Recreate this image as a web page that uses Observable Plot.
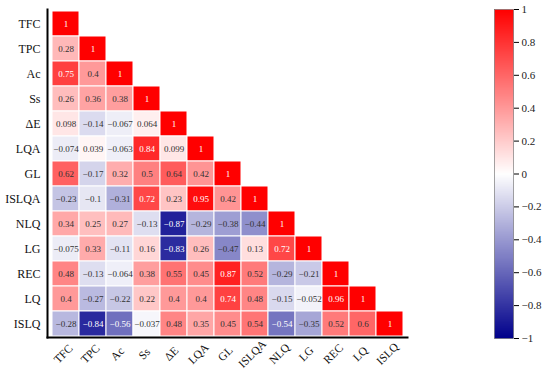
<!DOCTYPE html>
<html>
<head>
<meta charset="utf-8">
<script src="https://cdn.jsdelivr.net/npm/d3@7"></script>
<script src="https://cdn.jsdelivr.net/npm/@observablehq/plot@0.6"></script>
<style>
  html, body { margin: 0; padding: 0; background: #fff; }
  #wrap { position: relative; width: 550px; height: 382px; }
  #main, #bar { position: absolute; top: 0; }
  #main { left: 0; }
  #bar { left: 480px; }
  svg text { font-family: 'Liberation Serif', 'DejaVu Serif', serif; }
</style>
</head>
<body>
<div id="wrap"><div id="main"></div><div id="bar"></div></div>
<script>
// Variable names (rows top→bottom, columns left→right)
const variables = ["TFC", "TPC", "Ac", "Ss", "ΔE", "LQA", "GL", "ISLQA", "NLQ", "LG", "REC", "LQ", "ISLQ"];

// Lower-triangle correlation values, one array per row
const rowTFC   = [1];
const rowTPC   = [0.28, 1];
const rowAc    = [0.75, 0.4, 1];
const rowSs    = [0.26, 0.36, 0.38, 1];
const rowDE    = [0.098, -0.14, -0.067, 0.064, 1];
const rowLQA   = [-0.074, 0.039, -0.063, 0.84, 0.099, 1];
const rowGL    = [0.62, -0.17, 0.32, 0.5, 0.64, 0.42, 1];
const rowISLQA = [-0.23, -0.1, -0.31, 0.72, 0.23, 0.95, 0.42, 1];
const rowNLQ   = [0.34, 0.25, 0.27, -0.13, -0.87, -0.29, -0.38, -0.44, 1];
const rowLG    = [-0.075, 0.33, -0.11, 0.16, -0.83, 0.26, -0.47, 0.13, 0.72, 1];
const rowREC   = [0.48, -0.13, -0.064, 0.38, 0.55, 0.45, 0.87, 0.52, -0.29, -0.21, 1];
const rowLQ    = [0.4, -0.27, -0.22, 0.22, 0.4, 0.4, 0.74, 0.48, -0.15, -0.052, 0.96, 1];
const rowISLQ  = [-0.28, -0.84, -0.56, -0.037, 0.48, 0.35, 0.45, 0.54, -0.54, -0.35, 0.52, 0.6, 1];

// Color bar tick values
const barTicks = [1, 0.8, 0.6, 0.4, 0.2, 0, -0.2, -0.4, -0.6, -0.8, -1];

const rows = [rowTFC, rowTPC, rowAc, rowSs, rowDE, rowLQA, rowGL, rowISLQA, rowNLQ, rowLG, rowREC, rowLQ, rowISLQ];
const cells = [];
rows.forEach((r, i) => r.forEach((v, j) => cells.push({row: variables[i], col: variables[j], v})));

const fmt = v => String(v).replace("-", "−");
const colorScale = {type: "linear", domain: [-1, 0, 1], range: ["#00008b", "#ffffff", "#ff0000"]};
const serif = "'Liberation Serif', 'DejaVu Serif', serif";

const main = Plot.plot({
  width: 420,
  height: 382,
  marginLeft: 47,
  marginRight: 13,
  marginTop: 9,
  marginBottom: 45,
  style: {fontFamily: serif, fontSize: "12px", background: "transparent"},
  x: {domain: variables, padding: 0, axis: null},
  y: {domain: variables, padding: 0, axis: null, label: null},
  color: colorScale,
  marks: [
    Plot.cell(cells, {x: "col", y: "row", fill: "v", stroke: "white", strokeWidth: 1}),
    Plot.text(cells, {
      x: "col", y: "row", text: d => fmt(d.v),
      fill: d => (d.v > 0.7 || d.v < -0.5) ? "white" : "#333",
      fontSize: 9, fontFamily: serif
    }),
    Plot.axisY({label: null, tickSize: 0, tickPadding: 7, fontSize: 12, fontFamily: serif, fill: "#111"}),
    Plot.text(variables, {
      x: d => d, frameAnchor: "bottom", dy: 19, rotate: -45, textAnchor: "middle",
      fontSize: 11.5, fontFamily: serif, fill: "#111"
    }),
    Plot.frame({anchor: "left", stroke: "black", strokeWidth: 2}),
    Plot.frame({anchor: "bottom", stroke: "black", strokeWidth: 2})
  ]
});
document.getElementById("main").appendChild(main);

const bar = Plot.plot({
  width: 70,
  height: 382,
  marginLeft: 14,
  marginRight: 37,
  marginTop: 9,
  marginBottom: 44,
  style: {fontFamily: serif, fontSize: "11px", background: "transparent"},
  x: {domain: [0, 1], axis: null},
  y: {domain: [-1, 1], axis: null, label: null},
  color: colorScale,
  marks: [
    Plot.raster({x1: 0, x2: 1, y1: -1, y2: 1, width: 1, height: 256, fill: (x, y) => y, imageRendering: "auto"}),
    Plot.frame({stroke: "#666", strokeWidth: 0.6}),
    Plot.axisY({anchor: "right", label: null, ticks: barTicks, tickSize: 5, tickPadding: 3, tickFormat: fmt, fontSize: 11, fontFamily: serif, fill: "#222"})
  ]
});
document.getElementById("bar").appendChild(bar);
</script>
</body>
</html>
